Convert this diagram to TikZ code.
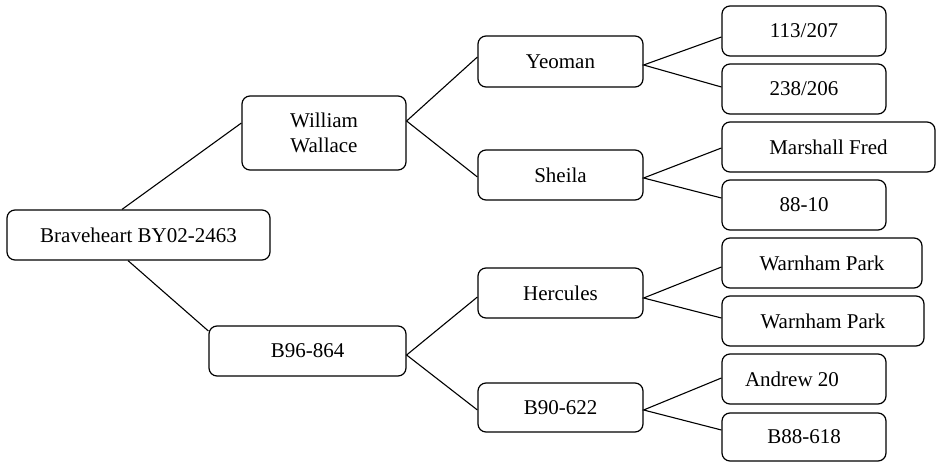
\documentclass[tikz,border=0pt]{standalone}
\usepackage{fontspec}
\setmainfont{Liberation Serif}
\begin{document}
\begin{tikzpicture}[x=1pt,y=-1pt,
  box/.style={draw, rounded corners=8pt, line width=1.2pt, inner sep=0pt, align=center,
    font=\fontsize{21}{25}\selectfont},
  link/.style={line width=1.1pt}]
\useasboundingbox (0,0) rectangle (937,462);
\node[box, minimum width=263pt, minimum height=50pt] (bh) at (138.5,235) {Braveheart BY02-2463};
\node[box, minimum width=164pt, minimum height=74pt] (ww) at (324,133) {William\\Wallace};
\node[box, minimum width=197pt, minimum height=50pt] (b96) at (307.5,351) {B96-864};
\node[box, minimum width=165pt, minimum height=51pt] (yeo) at (560.5,61.5) {Yeoman};
\node[box, minimum width=165pt, minimum height=50pt] (she) at (560.5,175) {Sheila};
\node[box, minimum width=165pt, minimum height=50pt] (her) at (560.5,293) {Hercules};
\node[box, minimum width=165pt, minimum height=49pt] (b90) at (560.5,407.5) {B90-622};
\node[box, minimum width=164pt, minimum height=50pt] (n1) at (804,31) {113/207};
\node[box, minimum width=164pt, minimum height=50pt] (n2) at (804,89) {238/206};
\node[box, minimum width=213pt, minimum height=50pt] (n3) at (828.5,147) {Marshall Fred};
\node[box, minimum width=164pt, minimum height=50pt] (n4) at (804,205) {88-10};
\node[box, minimum width=200pt, minimum height=50pt] (n5) at (822,263) {Warnham Park};
\node[box, minimum width=202pt, minimum height=50pt] (n6) at (823,321) {Warnham Park};
\node[box, minimum width=164pt, minimum height=50pt] (n7) at (804,379) {Andrew 20\hspace*{24pt}};
\node[box, minimum width=164pt, minimum height=48pt] (n8) at (804,437) {B88-618};

\draw[link] ([xshift=-16.5pt]bh.north) -- ([yshift=10pt]ww.west);
\draw[link] ([xshift=-10.5pt]bh.south) -- ([yshift=20pt]b96.west);
\draw[link] ([yshift=4.5pt]yeo.west) -- ([yshift=12pt]ww.east) -- ([yshift=-2pt]she.west);
\draw[link] ([yshift=-6pt]n1.west) -- ([yshift=-3.5pt]yeo.east) -- ([yshift=2pt]n2.west);
\draw[link] ([yshift=-1pt]n3.west) -- ([yshift=-3pt]she.east) -- ([yshift=7pt]n4.west);
\draw[link] ([yshift=-4pt]her.west) -- ([yshift=-4pt]b96.east) -- ([yshift=-2.5pt]b90.west);
\draw[link] ([yshift=-4pt]n5.west) -- ([yshift=-5pt]her.east) -- ([yshift=3pt]n6.west);
\draw[link] ([yshift=1pt]n7.west) -- ([yshift=-2.5pt]b90.east) -- ([yshift=7pt]n8.west);
\end{tikzpicture}
\end{document}
